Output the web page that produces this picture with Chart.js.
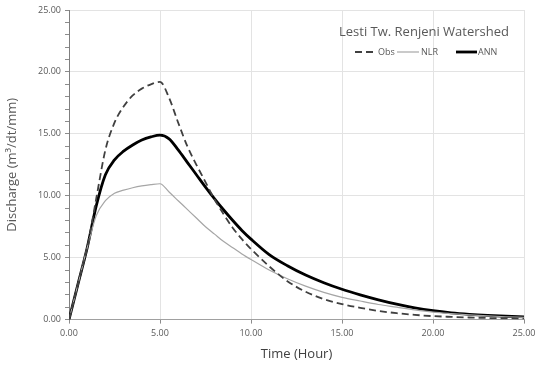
<!DOCTYPE html>
<html>
<head>
<meta charset="utf-8">
<script src="https://cdn.jsdelivr.net/npm/chart.js@4"></script>
<style>
  html, body { margin: 0; padding: 0; background: #fff; }
  #wrap { width: 542px; height: 370px; }
</style>
</head>
<body>
<div id="wrap"><canvas id="c" width="542" height="370"></canvas></div>
<script>
// hydrograph values
const hours = [0, 0.5, 1, 1.5, 2, 2.5, 3, 3.5, 4, 4.5, 5, 5.5, 6, 6.5, 7, 7.5, 8, 8.5, 9, 9.5, 10,
  11, 12, 13, 14, 15, 16, 17, 18, 19, 20, 21, 22, 23, 24, 25];
const obs = [0, 2.9, 5.8, 9.8, 13.7, 15.9, 17.2, 18.1, 18.65, 19.0, 19.2, 17.9, 15.9, 14.0, 12.5, 11.1, 9.7, 8.5, 7.4, 6.5, 5.7,
  4.3, 3.1, 2.25, 1.65, 1.25, 0.95, 0.7, 0.52, 0.38, 0.28, 0.22, 0.17, 0.13, 0.1, 0.08];
const nlr = [0, 2.9, 5.8, 8.4, 9.6, 10.2, 10.45, 10.65, 10.8, 10.9, 10.97, 10.3, 9.6, 8.9, 8.2, 7.5, 6.9, 6.3, 5.8, 5.3, 4.85,
  4.0, 3.3, 2.7, 2.2, 1.8, 1.5, 1.22, 1.0, 0.78, 0.6, 0.48, 0.38, 0.3, 0.23, 0.18];
const ann = [0, 2.9, 5.8, 9.2, 11.7, 12.9, 13.6, 14.1, 14.5, 14.75, 14.9, 14.6, 13.7, 12.7, 11.7, 10.7, 9.75, 8.85, 8.0, 7.2, 6.5,
  5.25, 4.35, 3.6, 2.98, 2.45, 2.0, 1.6, 1.25, 0.95, 0.72, 0.55, 0.43, 0.34, 0.27, 0.22];
const seriesNames = ['Obs', 'NLR', 'ANN'];
const chartTitle = 'Lesti Tw. Renjeni Watershed';

const grey = '#595959';
const font = '"Open Sans", sans-serif';

const toPoints = arr => hours.map((h, i) => ({ x: h, y: arr[i] }));

const styles = [
  { borderColor: '#404040', borderWidth: 1.8, borderDash: [7, 4] },
  { borderColor: '#a6a6a6', borderWidth: 1.2, borderDash: [] },
  { borderColor: '#000000', borderWidth: 2.8, borderDash: [] }
];

// title + legend drawn inside the plot, top right
const cornerLegend = {
  id: 'cornerLegend',
  afterDraw(chart) {
    const ctx = chart.ctx;
    ctx.save();
    ctx.fillStyle = grey;
    ctx.textBaseline = 'middle';
    ctx.textAlign = 'center';
    ctx.font = '13px ' + font;
    ctx.fillText(chartTitle, 424, 32);

    ctx.font = '9px ' + font;
    ctx.textAlign = 'left';
    const items = [[355, 376, 378], [397, 419, 421], [456, 477, 478]];
    chart.data.datasets.forEach((ds, i) => {
      const [x1, x2, tx] = items[i];
      ctx.beginPath();
      ctx.strokeStyle = ds.borderColor;
      ctx.lineWidth = ds.borderWidth;
      ctx.setLineDash(ds.borderDash);
      ctx.moveTo(x1, 52);
      ctx.lineTo(x2, 52);
      ctx.stroke();
      ctx.setLineDash([]);
      ctx.fillText(ds.label, tx, 52);
    });
    ctx.restore();
  }
};

new Chart(document.getElementById('c'), {
  type: 'line',
  data: {
    datasets: seriesNames.map((name, i) => ({
      label: name,
      data: toPoints([obs, nlr, ann][i]),
      borderColor: styles[i].borderColor,
      borderWidth: styles[i].borderWidth,
      borderDash: styles[i].borderDash,
      pointRadius: 0,
      fill: false,
      cubicInterpolationMode: 'monotone'
    }))
  },
  options: {
    responsive: false,
    animation: false,
    layout: { padding: { left: 4, right: 18, top: 10, bottom: 8 } },
    plugins: {
      legend: { display: false },
      tooltip: { enabled: false }
    },
    scales: {
      x: {
        type: 'linear',
        min: 0,
        max: 25,
        ticks: {
          stepSize: 5,
          color: grey,
          font: { family: font, size: 9 },
          padding: 4,
          maxRotation: 0,
          callback: v => v.toFixed(2)
        },
        grid: { color: '#e3e3e3', tickColor: '#8c8c8c', tickLength: 4 },
        border: { color: '#a0a0a0', width: 1 },
        title: {
          display: true,
          text: 'Time (Hour)',
          color: '#404040',
          font: { family: font, size: 13 },
          padding: { top: 4, bottom: 0 }
        }
      },
      y: {
        min: 0,
        max: 25,
        afterFit: s => { s.width = 65; },
        ticks: {
          stepSize: 1,
          autoSkip: false,
          color: grey,
          font: { family: font, size: 9 },
          padding: 4,
          callback: v => (v % 5 === 0 ? v.toFixed(2) : '')
        },
        grid: {
          color: c => (c.tick && c.tick.value % 5 === 0 ? '#e3e3e3' : 'rgba(0,0,0,0)'),
          tickColor: '#8c8c8c',
          tickLength: 4
        },
        border: { color: '#7f7f7f', width: 1 },
        title: {
          display: true,
          text: 'Discharge (m³/dt/mm)',
          color: grey,
          font: { family: font, size: 13 },
          padding: { top: 0, bottom: 4 }
        }
      }
    }
  },
  plugins: [cornerLegend]
});
</script>
</body>
</html>
